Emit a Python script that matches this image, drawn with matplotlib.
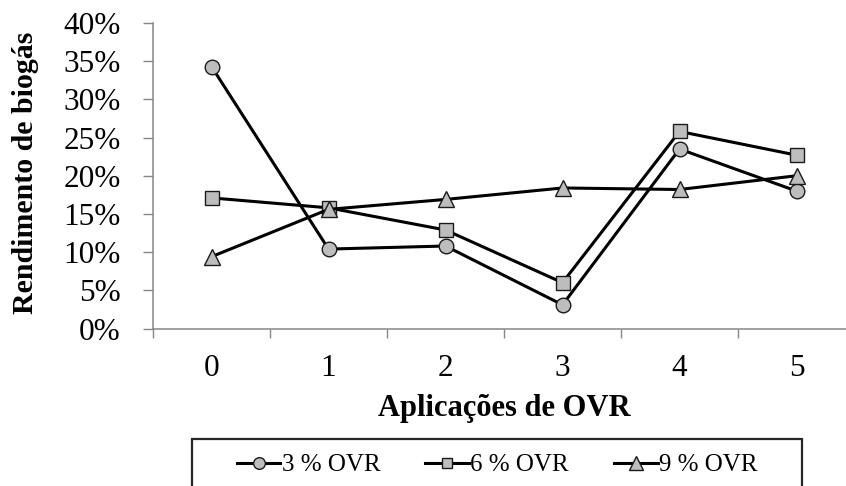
import matplotlib
matplotlib.use("Agg")
import matplotlib.pyplot as plt
from matplotlib.patches import Rectangle
from matplotlib.ticker import PercentFormatter, FixedLocator

# data
categories = ["0", "1", "2", "3", "4", "5"]
ovr3 = [34.3, 10.4, 10.8, 3.1, 23.5, 18.0]
ovr6 = [17.1, 15.8, 12.9, 6.0, 25.8, 22.7]
ovr9 = [9.4, 15.6, 16.9, 18.4, 18.2, 20.0]
series_names = ["3 % OVR", "6 % OVR", "9 % OVR"]

plt.rcParams['font.family'] = ['Liberation Serif', 'DejaVu Serif']

W, H = 846, 486
fig = plt.figure(figsize=(W / 100, H / 100), dpi=100)
# plot area runs past the right edge, like the cropped original
ax = fig.add_axes([153 / W, 1 - 328.5 / H, (855 - 153) / W, (328.5 - 23) / H])

x = list(range(len(categories)))
fill = '#bdbdbd'
common = dict(color='black', lw=2.2, markerfacecolor=fill,
              markeredgecolor='#1a1a1a', markeredgewidth=1.0)
ax.plot(x, ovr3, marker='o', markersize=10.5, label=series_names[0], **common)
ax.plot(x, ovr6, marker='s', markersize=9.5, label=series_names[1], **common)
ax.plot(x, ovr9, marker='^', markersize=12, label=series_names[2], **common)

ax.set_xlim(-0.5, len(categories) - 0.5)
ax.set_ylim(0, 40)
ax.set_yticks(range(0, 41, 5))
ax.yaxis.set_major_formatter(PercentFormatter(decimals=0))

# category labels in the middle, tick marks on the boundaries
ax.set_xticks(x)
ax.set_xticklabels(categories)
ax.xaxis.set_minor_locator(FixedLocator([i - 0.5 for i in x]))
ax.tick_params(axis='x', which='major', length=0, pad=18, labelsize=22.5)
ax.tick_params(axis='x', which='minor', length=6.5, width=1, color='#868686')
ax.tick_params(axis='y', length=7.2, width=1, color='#868686', pad=16,
               labelsize=22.5)

for s in ['top', 'right']:
    ax.spines[s].set_visible(False)
for s in ['left', 'bottom']:
    ax.spines[s].set_color('#868686')
    ax.spines[s].set_linewidth(1.1)

ax.set_xlabel("Aplicações de OVR", fontsize=22, fontweight='bold', labelpad=8)
ax.set_ylabel("Rendimento de biogás", fontsize=21.5, fontweight='bold')
ax.yaxis.set_label_coords(-0.163, 0.51)

# legend box is cut off by the bottom of the picture
fig.patches.append(Rectangle((192 / W, -0.1), (802 - 192) / W, (486 - 439) / H + 0.1,
                             transform=fig.transFigure, fill=False,
                             edgecolor='#262626', lw=1.6))
fig.legend(loc='center', bbox_to_anchor=(497 / W, 1 - 465 / H), ncol=3,
           frameon=False, fontsize=18, handlelength=1.75, handletextpad=0.05,
           columnspacing=1.8, markerscale=0.8)

fig.savefig("out.png", dpi=100)
